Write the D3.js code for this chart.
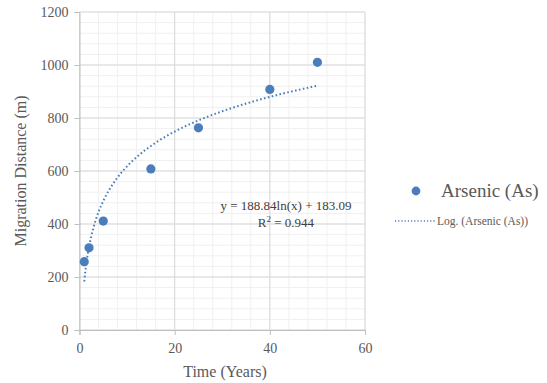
<!DOCTYPE html>
<html>
<head>
<meta charset="utf-8">
<script src="https://cdn.jsdelivr.net/npm/d3@7"></script>
<style>
  body { margin: 0; background: #fff; }
  svg text { font-family: 'Liberation Serif', serif; }
</style>
</head>
<body>
<div id="chart"></div>
<script>
// data
const years = [1, 2, 5, 15, 25, 40, 50];
const distances = [258, 310, 411, 608, 763, 908, 1010];
const xTicks = [0, 20, 40, 60];
const yTicks = [0, 200, 400, 600, 800, 1000, 1200];
const fitA = 188.84, fitB = 183.09; // y = a ln(x) + b

const width = 547, height = 383;
const margin = { left: 79.5, right: 182, top: 12, bottom: 53 };

const x = d3.scaleLinear().domain([0, 60]).range([margin.left, width - margin.right]);
const y = d3.scaleLinear().domain([0, 1200]).range([height - margin.bottom, margin.top]);

const svg = d3.select('#chart').append('svg')
  .attr('width', width)
  .attr('height', height);

const blue = '#4a7ebb';

// minor grid
const grid = svg.append('g');
grid.selectAll('line.mx')
  .data(d3.range(0, 61, 4))
  .join('line')
  .attr('x1', d => x(d)).attr('x2', d => x(d))
  .attr('y1', y(0)).attr('y2', y(1200))
  .attr('stroke', '#f0f0f0').attr('stroke-width', 1);
grid.selectAll('line.my')
  .data(d3.range(0, 1201, 40))
  .join('line')
  .attr('x1', x(0)).attr('x2', x(60))
  .attr('y1', d => y(d)).attr('y2', d => y(d))
  .attr('stroke', '#f0f0f0').attr('stroke-width', 1);

// major grid
grid.selectAll('line.Mx')
  .data(xTicks)
  .join('line')
  .attr('x1', d => x(d)).attr('x2', d => x(d))
  .attr('y1', y(0)).attr('y2', y(1200))
  .attr('stroke', '#d9d9d9').attr('stroke-width', 1);
grid.selectAll('line.My')
  .data(yTicks)
  .join('line')
  .attr('x1', x(0)).attr('x2', x(60))
  .attr('y1', d => y(d)).attr('y2', d => y(d))
  .attr('stroke', '#d9d9d9').attr('stroke-width', 1);

// axes
const xAxis = svg.append('g')
  .attr('transform', `translate(0,${y(0)})`)
  .call(d3.axisBottom(x).tickValues(xTicks).tickFormat(d3.format('d')).tickSize(5).tickPadding(8));
const yAxis = svg.append('g')
  .attr('transform', `translate(${x(0)},0)`)
  .call(d3.axisLeft(y).tickValues(yTicks).tickFormat(d3.format('d')).tickSize(5).tickPadding(6));

[xAxis, yAxis].forEach(ax => {
  ax.attr('font-size', 14).attr('font-family', null);
  ax.select('.domain').attr('stroke', '#bfbfbf');
  ax.selectAll('.tick line').attr('stroke', '#bfbfbf');
  ax.selectAll('.tick text').attr('fill', '#595959');
});

// trendline
const fitXs = d3.range(1, 50.01, 0.25);
const line = d3.line()
  .x(d => x(d))
  .y(d => y(fitA * Math.log(d) + fitB))
  .curve(d3.curveMonotoneX);
svg.append('path')
  .datum(fitXs)
  .attr('d', line)
  .attr('fill', 'none')
  .attr('stroke', blue)
  .attr('stroke-width', 2)
  .attr('stroke-dasharray', '1.6,2.4');

// points
svg.append('g')
  .selectAll('circle')
  .data(years)
  .join('circle')
  .attr('cx', d => x(d))
  .attr('cy', (d, i) => y(distances[i]))
  .attr('r', 4.6)
  .attr('fill', blue);

// equation label
const eq = svg.append('text')
  .attr('x', 286).attr('y', 210)
  .attr('text-anchor', 'middle')
  .attr('fill', '#404040')
  .attr('font-size', 13);
eq.append('tspan').attr('x', 286).text('y = 188.84ln(x) + 183.09');
const r2 = eq.append('tspan').attr('x', 286).attr('dy', 17).text('R');
r2.append('tspan').attr('dy', -5).attr('font-size', 9).text('2');
r2.append('tspan').attr('dy', 5).text(' = 0.944');

// axis titles
svg.append('text')
  .attr('x', 225).attr('y', 377)
  .attr('text-anchor', 'middle')
  .attr('fill', '#595959')
  .attr('font-size', 16)
  .text('Time (Years)');
svg.append('text')
  .attr('transform', `translate(26,${(y(0) + y(1200)) / 2}) rotate(-90)`)
  .attr('text-anchor', 'middle')
  .attr('fill', '#595959')
  .attr('font-size', 16)
  .text('Migration Distance (m)');

// legend
const legend = svg.append('g');
legend.append('circle')
  .attr('cx', 416).attr('cy', 191).attr('r', 4.4).attr('fill', blue);
legend.append('text')
  .attr('x', 441).attr('y', 197)
  .attr('fill', '#595959')
  .attr('font-size', 19)
  .text('Arsenic (As)');
legend.append('line')
  .attr('x1', 395).attr('x2', 436)
  .attr('y1', 221).attr('y2', 221)
  .attr('stroke', blue).attr('stroke-width', 1.5)
  .attr('stroke-dasharray', '1.2,2');
legend.append('text')
  .attr('x', 437).attr('y', 225)
  .attr('fill', '#595959')
  .attr('font-size', 11.5)
  .text('Log. (Arsenic (As))');
</script>
</body>
</html>
